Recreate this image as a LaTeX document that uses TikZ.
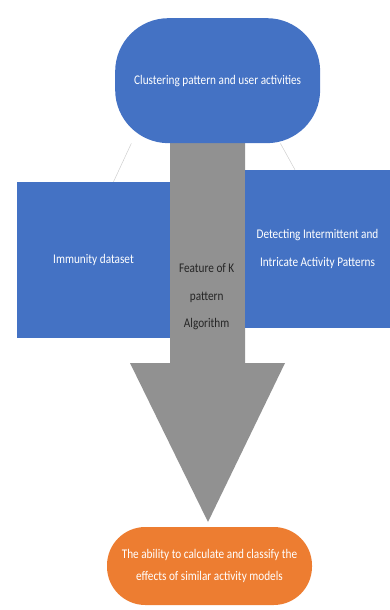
\documentclass[tikz,border=0pt]{standalone}
\usepackage{fontspec}
\setmainfont{Carlito}[FakeStretch=0.85]
\usepackage{tikz}

\definecolor{boxblue}{RGB}{68,114,196}
\definecolor{boxorange}{RGB}{237,125,49}
\definecolor{arrowgray}{RGB}{145,145,145}

\begin{document}
\begin{tikzpicture}[
    y={(0,-1cm)},
    every node/.style={font=\fontsize{11.3}{23.5}\selectfont, align=center, inner sep=0pt},
    bluebox/.style={rectangle, fill=boxblue, text=white},
    pill/.style={rectangle, rounded corners=1.6cm, fill=boxblue, text=white},
    result/.style={rectangle, rounded corners=1.15cm, fill=boxorange, text=white,
        font=\fontsize{11.3}{19}\selectfont},
    link/.style={draw=gray!40, thin}
]
\useasboundingbox (0,0) rectangle (11.7,18.3);

% Gray block arrow
\fill[arrowgray] (5.1,3.9) -- (7.35,3.9) -- (7.35,10.89) -- (8.55,10.89)
    -- (6.24,15.66) -- (3.9,10.89) -- (5.1,10.89) -- cycle;
\node[text=black!85] (algo) at (6.2,8.91) {Feature of K\\pattern\\Algorithm};

% Side boxes
\node[bluebox, minimum width=4.59cm, minimum height=4.68cm] (immune) at (2.805,7.8) {Immunity dataset};
\node[bluebox, minimum width=4.35cm, minimum height=4.74cm] (detect) at (9.525,7.47)
    {Detecting Intermittent and\\Intricate Activity Patterns};

% Top box
\node[pill, minimum width=6.15cm, minimum height=3.75cm] (cluster) at (6.53,2.42)
    {Clustering pattern and user activities};

% Bottom box
\node[result, minimum width=6.15cm, minimum height=2.34cm] (ability) at (6.285,16.98)
    {The ability to calculate and classify the\\effects of similar activity models};

% Thin links
\draw[link] (cluster.216) -- ([xshift=0.6cm]immune.north);
\draw[link] (cluster.315) -- ([xshift=-0.675cm]detect.north);

\end{tikzpicture}
\end{document}
